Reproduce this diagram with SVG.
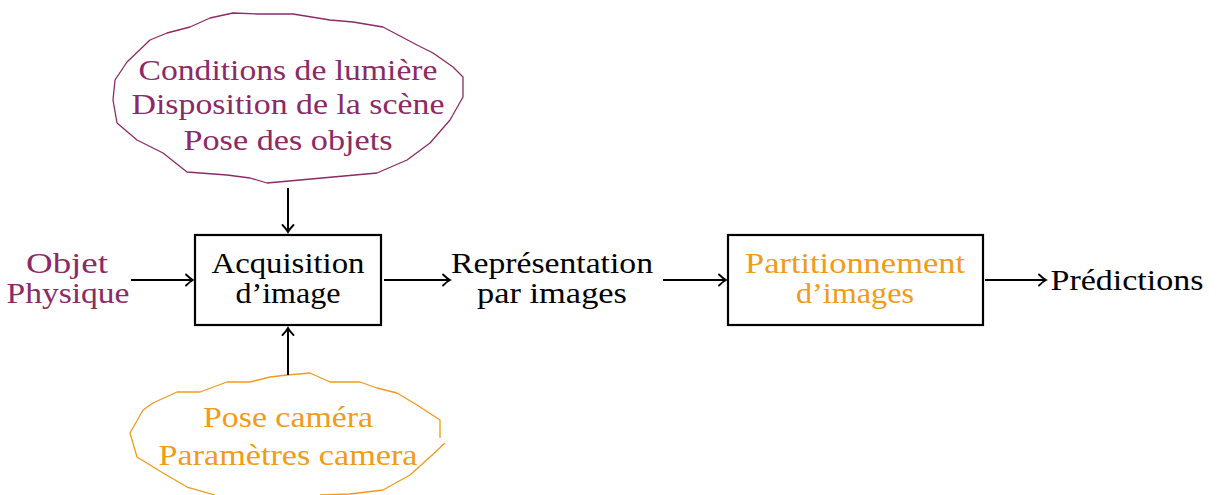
<svg xmlns="http://www.w3.org/2000/svg" width="1218" height="495" viewBox="0 0 1218 495">
<style>
text{font-size:30px;text-anchor:middle}
.k{fill:#000}
.p{fill:#8C2A67}
.o{fill:#F29A1A}
.box{fill:none;stroke:#000;stroke-width:2.2}
.cp{fill:none;stroke:#8C2A67;stroke-width:1.3;stroke-linejoin:round}
.co{fill:none;stroke:#F29A1A;stroke-width:1.3;stroke-linejoin:round}
.e{fill:none;stroke:#000;stroke-width:2;marker-end:url(#ah)}
</style>
<defs>
<marker id="ah" markerUnits="userSpaceOnUse" markerWidth="14" markerHeight="14" viewBox="-10 -7 12 14" refX="0" refY="0" orient="auto">
<path d="M-7,-5.5 Q-3,-1.5 0,0 Q-3,1.5 -7,5.5" fill="none" stroke="#000" stroke-width="1.8" stroke-linecap="round"/>
</marker>
</defs>
<g font-family="Liberation Serif, Times New Roman, DejaVu Serif, Noto Serif, FreeSerif, serif">
<g id="n-cloud-top">
<path class="cp" d="M115,80 L127,62 L150,40 L167,33 L190,27 L210,18 L233,13 L257,14 L293,14 L330,20 L353,22 L383,27 L417,45 L433,53 L453,67 L463,77 L463,97 L450,120 L430,143 L407,160 L377,173 L333,177 L300,180 L267,183 L250,178 L227,175 L187,172 L163,153 L137,140 L117,123 L113,100 Z"/>
<text class="p" x="288" y="80" textLength="299" lengthAdjust="spacingAndGlyphs">Conditions de lumière</text>
<text class="p" x="288" y="114" textLength="313" lengthAdjust="spacingAndGlyphs">Disposition de la scène</text>
<text class="p" x="288" y="150" textLength="209" lengthAdjust="spacingAndGlyphs">Pose des objets</text>
</g>
<g id="n-cloud-bottom">
<path class="co" d="M440,438 L440,420 L417,405 L397,393 L377,388 L360,382 L330,382 L310,373 L287,375 L270,377 L250,382 L227,382 L200,392 L177,392 L153,403 L143,410 L130,433 L137,457 L163,473 L187,487 L215,495 M320,495 L350,494 L383,490 L410,475 L430,457 L445,443"/>
<text class="o" x="288" y="427" textLength="170" lengthAdjust="spacingAndGlyphs">Pose caméra</text>
<text class="o" x="288" y="465" textLength="259" lengthAdjust="spacingAndGlyphs">Paramètres camera</text>
</g>
<g id="n-objet">
<text class="p" x="67" y="273" textLength="82" lengthAdjust="spacingAndGlyphs">Objet</text>
<text class="p" x="68" y="303" textLength="123" lengthAdjust="spacingAndGlyphs">Physique</text>
</g>
<g id="n-acq">
<rect class="box" x="195" y="235" width="186" height="90"/>
<text class="k" x="288" y="273" textLength="153" lengthAdjust="spacingAndGlyphs">Acquisition</text>
<text class="k" x="288" y="303" textLength="105" lengthAdjust="spacingAndGlyphs">d’image</text>
</g>
<g id="n-repr">
<text class="k" x="552" y="273" textLength="202" lengthAdjust="spacingAndGlyphs">Représentation</text>
<text class="k" x="552" y="303" textLength="150" lengthAdjust="spacingAndGlyphs">par images</text>
</g>
<g id="n-part">
<rect class="box" x="728" y="235" width="255" height="90"/>
<text class="o" x="855" y="273" textLength="220" lengthAdjust="spacingAndGlyphs">Partitionnement</text>
<text class="o" x="855" y="303" textLength="118" lengthAdjust="spacingAndGlyphs">d’images</text>
</g>
<g id="n-pred">
<text class="k" x="1127" y="290" textLength="153" lengthAdjust="spacingAndGlyphs">Prédictions</text>
</g>
</g>
<g id="connectors">
<path class="e" d="M131,280 H193"/>
<path class="e" d="M384,280 H450"/>
<path class="e" d="M663,280 H726"/>
<path class="e" d="M985,280 H1046"/>
<path class="e" d="M288,188 V232"/>
<path class="e" d="M288,375 V328"/>
</g>
</svg>
